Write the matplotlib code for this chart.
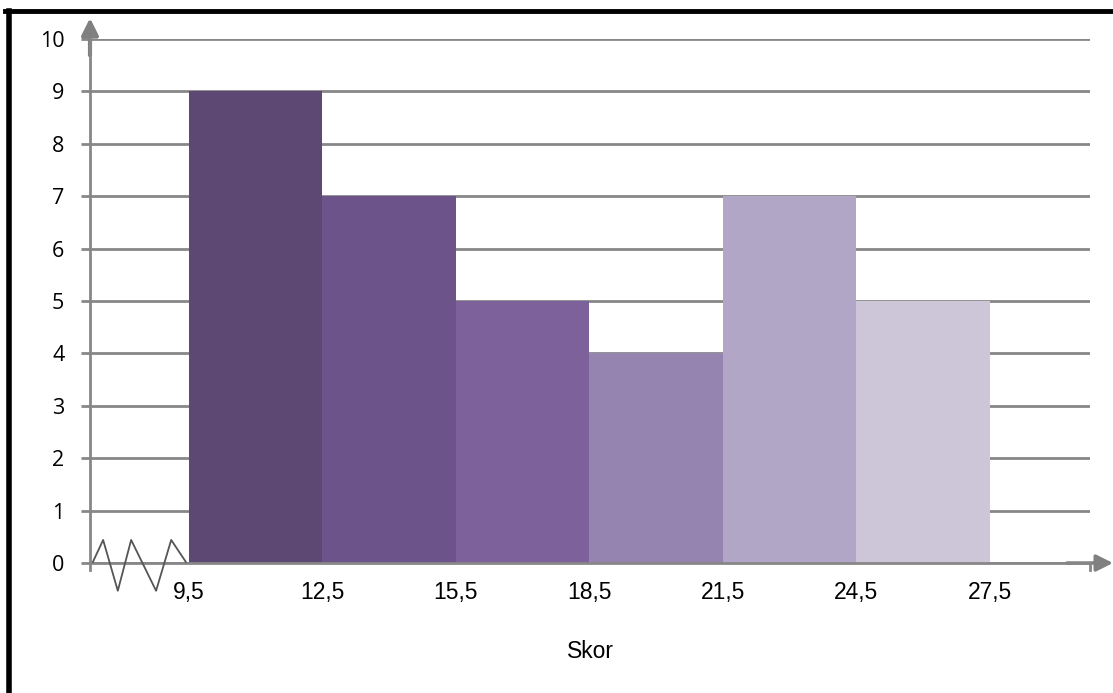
import matplotlib.pyplot as plt
from matplotlib.lines import Line2D

# Histogram of scores ("Skor"), class boundaries on the x axis
edges = [9.5, 12.5, 15.5, 18.5, 21.5, 24.5, 27.5]
freq = [9, 7, 5, 4, 7, 5]
edge_labels = ['9,5', '12,5', '15,5', '18,5', '21,5', '24,5', '27,5']
y_ticks = [0, 1, 2, 3, 4, 5, 6, 7, 8, 9, 10]
bar_colors = ['#5D4874', '#6C5389', '#7C619B', '#9583B0', '#B1A6C6', '#CDC6D8']

GRAY = '#878787'

plt.rcParams['font.family'] = ['Liberation Sans', 'DejaVu Sans']

fig = plt.figure(figsize=(11.13, 6.93), dpi=100)
ax = fig.add_axes([90 / 1113, 130 / 693, 1000 / 1113, 524 / 693])

widths = [edges[i + 1] - edges[i] for i in range(len(freq))]
ax.bar(edges[:-1], freq, width=widths, align='edge', color=bar_colors,
       edgecolor='none', zorder=2)

ax.set_xlim(7.275, 29.75)
ax.set_ylim(0, 10)
ax.set_yticks(y_ticks)
ax.set_yticklabels([str(v) for v in y_ticks], fontsize=15.5,
                   family=['Open Sans', 'DejaVu Sans'])
ax.set_xticks(edges)
ax.set_xticklabels(edge_labels, fontsize=16.5)

ax.set_axisbelow(True)
ax.yaxis.grid(True, color=GRAY, lw=2)
ax.tick_params(axis='y', length=6.5, width=2, color=GRAY, pad=12)
ax.tick_params(axis='x', length=0, pad=13)

for side in ['top', 'right']:
    ax.spines[side].set_visible(False)
for side in ['left', 'bottom']:
    ax.spines[side].set_color(GRAY)
    ax.spines[side].set_linewidth(2)
    ax.spines[side].set_zorder(3)

ax.set_xlabel('Skor', fontsize=16.5, labelpad=26)

# axis arrows
ax.annotate('', xy=(0, 1.04), xytext=(0, 0.969), xycoords='axes fraction',
            arrowprops=dict(arrowstyle='-|>', color='#808080', lw=3,
                            mutation_scale=25, shrinkA=0, shrinkB=0))
ax.annotate('', xy=(1.023, 0), xytext=(0.977, 0), xycoords='axes fraction',
            arrowprops=dict(arrowstyle='-|>', color='#808080', lw=2.5,
                            mutation_scale=25, shrinkA=0, shrinkB=0))

# small tick marks at both ends of the x axis
for xf in (0, 1):
    ax.add_line(Line2D([xf, xf], [0, -0.013], transform=ax.transAxes,
                       color=GRAY, lw=2, clip_on=False))

# axis break zigzag before the first class
zz_x = [7.34, 7.57, 7.90, 8.20, 8.76, 9.10, 9.43]
zz_y = [0.02, 0.44, -0.53, 0.44, -0.53, 0.44, 0.02]
ax.plot(zz_x, zz_y, color='#555555', lw=1.3, clip_on=False, zorder=4)

# frame around the figure (top and left)
fig.add_artist(Line2D([5 / 1113, 1], [1 - 11 / 693] * 2, color='black', lw=3.5))
fig.add_artist(Line2D([8.5 / 1113] * 2, [0, 1 - 11 / 693], color='black', lw=4))

fig.savefig('out.png', dpi=100)
